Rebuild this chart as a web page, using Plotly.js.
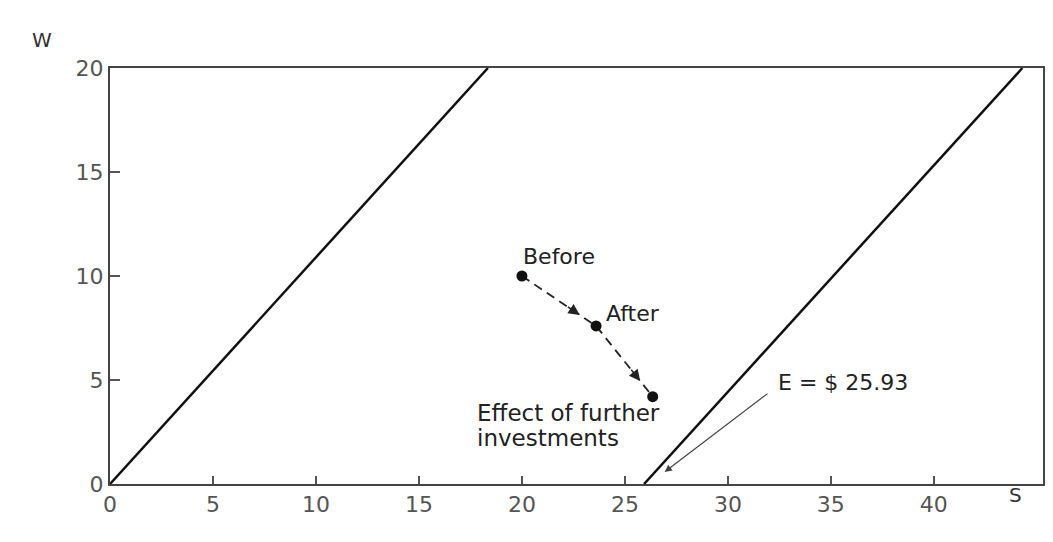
<!DOCTYPE html>
<html><head><meta charset="utf-8">
<script src="https://cdn.plot.ly/plotly-3.0.1.min.js"></script>
<style>body{margin:0;background:#fff}#c{width:1053px;height:542px}</style>
</head><body><div id="c"></div>
<script>
// Boundary lines (S, W)
const line1S = [0, 18.35];
const line1W = [0, 20];
const line2S = [25.93, 44.3];
const line2W = [0, 20];
// Path points
const pathNames = ["Before", "After", "Effect of further", "investments"];
const pathS = [20.0, 23.6, 26.35];
const pathW = [10.0, 7.6, 4.2];
const eLabel = "E = $ 25.93";
const eValue = 25.93;
const xTicks = [0, 5, 10, 15, 20, 25, 30, 35, 40];
const yTicks = [0, 5, 10, 15, 20];

const fontFam = '"DejaVu Sans", Verdana, sans-serif';
const txtColor = '#222';
const tsize = 22;
const traces = [
  {x: line1S, y: line1W, mode: 'lines', line: {color: '#111', width: 2.5}, hoverinfo: 'skip'},
  {x: line2S, y: line2W, mode: 'lines', line: {color: '#111', width: 2.5}, hoverinfo: 'skip'},
  {x: pathS, y: pathW, mode: 'lines+markers', line: {color: '#222', width: 1.8, dash: '9px,6px'},
   marker: {color: '#111', size: 11}, hoverinfo: 'skip'}
];

const annotations = [];
// arrowheads along the path
for (let i = 0; i < pathS.length - 1; i++) {
  const mx = pathS[i] + 0.78 * (pathS[i+1] - pathS[i]);
  const my = pathW[i] + 0.78 * (pathW[i+1] - pathW[i]);
  const sx = pathS[i] + 0.6 * (pathS[i+1] - pathS[i]);
  const sy = pathW[i] + 0.6 * (pathW[i+1] - pathW[i]);
  annotations.push({x: mx, y: my, ax: sx, ay: sy, xref: 'x', yref: 'y', axref: 'x', ayref: 'y',
    showarrow: true, arrowhead: 2, arrowsize: 1.4, arrowwidth: 1.6, arrowcolor: '#222', text: ''});
}
const txt = (x, y, t, size) => ({x: x, y: y, xref: 'x', yref: 'y', text: t, showarrow: false,
  xanchor: 'left', yanchor: 'middle', font: {family: fontFam, size: size || tsize, color: txtColor}});
annotations.push(txt(pathS[0] - 0.05, pathW[0] + 0.96, pathNames[0]));
annotations.push(txt(pathS[1] + 0.4, pathW[1] + 0.62, pathNames[1]));
annotations.push(txt(pathS[2] - 8.65, pathW[2] - 0.79, pathNames[2], 23));
annotations.push(txt(pathS[2] - 8.65, pathW[2] - 1.99, pathNames[3], 23));
annotations.push({x: eValue + 1.0, y: 0.58, ax: 32.0, ay: 4.4, xref: 'x', yref: 'y', axref: 'x', ayref: 'y',
  showarrow: true, arrowhead: 2, arrowsize: 1.2, arrowwidth: 1.2, arrowcolor: '#444', text: ''});
annotations.push(txt(32.35, 4.86, eLabel, 22));

// axis letters, positioned in pixels converted to paper coords
const L = 110, R = 10, T = 68, B = 58, W = 1053, H = 542;
const px = (x, y, t) => ({x: (x - L) / (W - L - R), y: 1 - (y - T) / (H - T - B), xref: 'paper', yref: 'paper',
  text: t, showarrow: false, xanchor: 'center', yanchor: 'middle', font: {family: fontFam, size: 20, color: '#333'}});
annotations.push(px(42, 40, 'W'));
annotations.push(px(1015, 495, 'S'));

const layout = {
  width: W, height: H,
  margin: {l: L, r: R, t: T, b: B},
  paper_bgcolor: '#fff', plot_bgcolor: '#fff',
  showlegend: false,
  font: {family: fontFam, color: '#444'},
  xaxis: {range: [0, 45.3], tickvals: xTicks, ticktext: xTicks.map(String), ticks: 'inside', ticklen: 8,
    tickcolor: '#555', tickwidth: 1.5, showline: true, linecolor: '#444', linewidth: 2, mirror: true,
    showgrid: false, zeroline: false, tickfont: {size: 22, color: '#555'}},
  yaxis: {range: [0, 20], tickvals: yTicks, ticktext: yTicks.map(String), ticks: 'inside', ticklen: 10,
    tickcolor: '#555', tickwidth: 1.5, showline: true, linecolor: '#444', linewidth: 2, mirror: true,
    showgrid: false, zeroline: false, tickfont: {size: 22, color: '#555'}},
  annotations: annotations
};
Plotly.newPlot('c', traces, layout, {displayModeBar: false, staticPlot: true});
</script></body></html>
